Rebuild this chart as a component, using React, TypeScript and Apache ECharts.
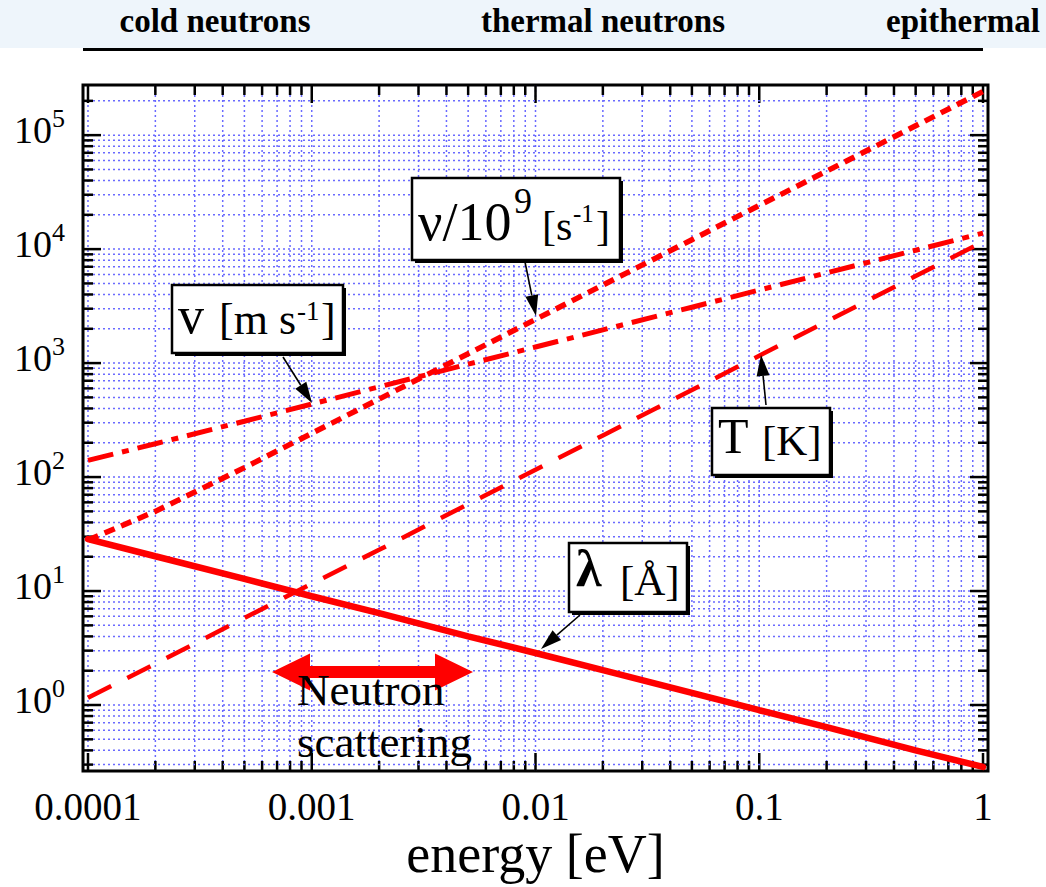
import React, { useEffect, useRef } from 'react';
import * as echarts from 'echarts';

// ---- data ----
const energy = [0.0001, 0.0002, 0.0005, 0.001, 0.002, 0.005, 0.01, 0.02, 0.05, 0.1, 0.2, 0.5, 1];
const wavelength = [28.6, 20.2, 12.8, 9.0, 6.4, 4.0, 2.86, 2.02, 1.28, 0.9, 0.64, 0.4, 0.286];
const temperature = [1.16, 2.3, 5.8, 11.6, 23, 58, 116, 232, 580, 1160, 2320, 5800, 11600];
const velocity = [140, 196, 309, 437, 619, 978, 1383, 1956, 3093, 4374, 6186, 9781, 13832];
const frequency = [28, 50, 121, 242, 484, 1209, 2418, 4836, 12090, 24180, 48360, 120900, 241800];

const xTickLabels = ['0.0001', '0.001', '0.01', '0.1', '1'];
const xDecades = [-4, -3, -2, -1, 0];
const yDecades = [-1, 0, 1, 2, 3, 4, 5];
const minorMultipliers = [1, 2, 3, 4, 5, 6, 7, 8, 9];
const regionLabels = ['cold neutrons', 'thermal neutrons', 'epithermal'];
const xTitle = 'energy [eV]';

const X_MIN = Math.pow(10, -4.0223);
const X_MAX = Math.pow(10, 0.0223);
const Y_MIN = Math.pow(10, -0.579);
const Y_MAX = Math.pow(10, 5.44);

const SERIF = '"Liberation Serif", "Times New Roman", serif';
const RED = '#ff0000';
const GRID_COLOR = '#6a6aff';

const xGrid: number[][] = [];
xDecades.forEach((d) =>
  minorMultipliers.forEach((m) => {
    const v = m * Math.pow(10, d);
    if (v >= X_MIN && v <= X_MAX) xGrid.push([v, 1, m === 1 ? 1 : 0]);
  })
);
const yGrid: number[][] = [];
yDecades.forEach((d) =>
  minorMultipliers.forEach((m) => {
    const v = m * Math.pow(10, d);
    if (v >= Y_MIN && v <= Y_MAX) yGrid.push([0.01, v, m === 1 ? 1 : 0]);
  })
);

const pairs = (ys: number[]) => energy.map((e, i) => [e, ys[i]]);

function txt(text: string, x: number, baseline: number, size: number, extra: any = {}) {
  const y = baseline - 0.3375 * size;
  return {
    type: 'text',
    x,
    y,
    z: 120,
    silent: true,
    style: {
      text,
      fontSize: size,
      fontFamily: SERIF,
      fill: '#000',
      align: extra.align || 'left',
      textAlign: extra.align || 'left',
      verticalAlign: 'middle',
      textVerticalAlign: 'middle',
      fontWeight: extra.fontWeight || 'normal',
    },
  };
}

function box(x: number, y: number, w: number, h: number) {
  return [
    { type: 'rect', z: 110, silent: true, shape: { x: x + 3, y: y + 3, width: w, height: h }, style: { fill: '#000' } },
    { type: 'rect', z: 111, silent: true, shape: { x, y, width: w, height: h }, style: { fill: '#fff', stroke: '#000', lineWidth: 2.5 } },
  ];
}

function arrow(x1: number, y1: number, x2: number, y2: number) {
  const dx = x2 - x1;
  const dy = y2 - y1;
  const L = Math.hypot(dx, dy);
  const ux = dx / L;
  const uy = dy / L;
  const hl = 21;
  const hw = 6.5;
  const bx = x2 - ux * hl;
  const by = y2 - uy * hl;
  const px = -uy;
  const py = ux;
  return [
    { type: 'line', z: 112, silent: true, shape: { x1, y1, x2: bx, y2: by }, style: { stroke: '#000', lineWidth: 1.6 } },
    {
      type: 'polygon',
      z: 112,
      silent: true,
      shape: { points: [[x2, y2], [bx + px * hw, by + py * hw], [bx - px * hw, by - py * hw]] },
      style: { fill: '#000' },
    },
  ];
}

function gridRender(vertical: boolean) {
  return (params: any, api: any) => {
    const cs = params.coordSys;
    const p = api.coord([api.value(0), api.value(1)]);
    const major = api.value(2) === 1;
    const len = major ? 18 : 10;
    const tickStyle = { stroke: '#000', lineWidth: 2.5 };
    const gridStyle = { stroke: GRID_COLOR, lineWidth: 1.5, lineDash: [2, 3] };
    if (vertical) {
      const top = cs.y;
      const bottom = cs.y + cs.height;
      return {
        type: 'group',
        children: [
          { type: 'line', shape: { x1: p[0], y1: top, x2: p[0], y2: bottom }, style: gridStyle },
          { type: 'line', shape: { x1: p[0], y1: bottom, x2: p[0], y2: bottom - len }, style: tickStyle },
          { type: 'line', shape: { x1: p[0], y1: top, x2: p[0], y2: top + len }, style: tickStyle },
        ],
      };
    }
    const left = cs.x;
    const right = cs.x + cs.width;
    return {
      type: 'group',
      children: [
        { type: 'line', shape: { x1: left, y1: p[1], x2: right, y2: p[1] }, style: gridStyle },
        { type: 'line', shape: { x1: left, y1: p[1], x2: left + len, y2: p[1] }, style: tickStyle },
        { type: 'line', shape: { x1: right, y1: p[1], x2: right - len, y2: p[1] }, style: tickStyle },
      ],
    };
  };
}

export default function App() {
  const ref = useRef<HTMLDivElement>(null);
  useEffect(() => {
    if (!ref.current) return;
    const chart = echarts.init(ref.current, undefined, { renderer: 'svg' });

    const graphic: any[] = [
      { type: 'rect', z: 100, silent: true, shape: { x: 0, y: 0, width: 1046, height: 48 }, style: { fill: '#eef5fb' } },
      { type: 'line', z: 101, silent: true, shape: { x1: 83, y1: 49.5, x2: 983, y2: 49.5 }, style: { stroke: '#000', lineWidth: 3 } },
      txt(regionLabels[0], 215, 32, 33, { align: 'center', fontWeight: 'bold' }),
      txt(regionLabels[1], 603, 32, 33, { align: 'center', fontWeight: 'bold' }),
      txt(regionLabels[2], 963, 32, 33, { align: 'center', fontWeight: 'bold' }),

      // nu / 10^9 [s^-1]
      ...box(412, 178, 208, 82),
      txt('ν/10', 418, 240, 54),
      txt('9', 514, 213, 36),
      txt('[s', 542, 240, 42),
      txt('-1', 573, 222, 25),
      txt(']', 596, 240, 42),
      ...arrow(525, 262, 536, 316),

      // v [m s^-1]
      ...box(172, 285, 171, 68),
      txt('v', 178, 333, 52),
      txt('[m s', 219, 334, 44),
      txt('-1', 297, 320, 27),
      txt(']', 321, 334, 44),
      ...arrow(283, 357, 312, 403),

      // T [K]
      ...box(712, 408, 118, 67),
      txt('T', 718, 453, 50),
      txt('[K]', 762, 455, 43),
      ...arrow(766, 405, 761, 355),

      // lambda [Å]
      ...box(569, 543, 118, 69),
      txt('λ', 576, 586, 52, { fontWeight: 'bold' }),
      txt('[Å]', 620, 595, 43),
      ...arrow(580, 615, 541, 649),

      // neutron scattering double arrow
      {
        type: 'polygon',
        z: 105,
        silent: true,
        shape: {
          points: [
            [272, 672], [310, 653.5], [310, 666], [435, 666], [435, 653.5],
            [473, 672], [435, 690.5], [435, 678], [310, 678], [310, 690.5],
          ],
        },
        style: { fill: RED },
      },
      txt('Neutron', 297, 705, 45),
      txt('scattering', 297, 757, 45),
    ];

    const option: any = {
      animation: false,
      backgroundColor: '#fff',
      grid: {
        left: 83,
        top: 85,
        right: 58,
        bottom: 116,
        show: true,
        borderColor: '#000',
        borderWidth: 3,
        backgroundColor: 'transparent',
        containLabel: false,
        outerBoundsMode: 'none',
      },
      xAxis: {
        type: 'log',
        logBase: 10,
        min: X_MIN,
        max: X_MAX,
        axisLine: { show: false },
        axisTick: { show: false },
        splitLine: { show: false },
        minorTick: { show: false },
        minorSplitLine: { show: false },
        axisLabel: {
          margin: 16,
          fontSize: 39,
          lineHeight: 39,
          fontFamily: SERIF,
          color: '#000',
          formatter: (v: number) => {
            const e = Math.log10(v);
            const r = Math.round(e);
            if (Math.abs(e - r) > 1e-6) return '';
            const i = xDecades.indexOf(r);
            return i >= 0 ? xTickLabels[i] : '';
          },
        },
        name: xTitle,
        nameLocation: 'middle',
        nameGap: 56,
        nameMoveOverlap: false,
        nameTextStyle: { fontSize: 54, lineHeight: 54, fontFamily: SERIF, color: '#000' },
      },
      yAxis: {
        type: 'log',
        logBase: 10,
        min: Y_MIN,
        max: Y_MAX,
        axisLine: { show: false },
        axisTick: { show: false },
        splitLine: { show: false },
        minorTick: { show: false },
        minorSplitLine: { show: false },
        axisLabel: {
          margin: 18,
          padding: [0, 0, 10.6, 0],
          formatter: (v: number) => {
            const e = Math.log10(v);
            const r = Math.round(e);
            if (Math.abs(e - r) > 1e-6) return '';
            return `{b|10}{s|${r}}`;
          },
          rich: {
            b: { fontSize: 38, lineHeight: 38, fontFamily: SERIF, color: '#000', verticalAlign: 'bottom' },
            s: { fontSize: 26, lineHeight: 38, fontFamily: SERIF, color: '#000', verticalAlign: 'bottom', padding: [0, 0, 17, 0] },
          },
        },
      },
      series: [
        {
          type: 'custom',
          name: 'xgrid',
          silent: true,
          z: 1,
          clip: false,
          encode: { x: 0, y: 1 },
          data: xGrid,
          renderItem: gridRender(true),
        },
        {
          type: 'custom',
          name: 'ygrid',
          silent: true,
          z: 1,
          clip: false,
          encode: { x: 0, y: 1 },
          data: yGrid,
          renderItem: gridRender(false),
        },
        {
          type: 'line',
          name: 'λ [Å]',
          data: pairs(wavelength),
          symbol: 'none',
          showSymbol: false,
          silent: true,
          z: 3,
          lineStyle: { color: RED, width: 6.5, cap: 'round' },
        },
        {
          type: 'line',
          name: 'T [K]',
          data: pairs(temperature),
          symbol: 'none',
          showSymbol: false,
          silent: true,
          z: 3,
          lineStyle: { color: RED, width: 4.5, type: [26, 18] },
        },
        {
          type: 'line',
          name: 'v [m s-1]',
          data: pairs(velocity),
          symbol: 'none',
          showSymbol: false,
          silent: true,
          z: 3,
          lineStyle: { color: RED, width: 5, type: [26, 9, 7, 9] },
        },
        {
          type: 'line',
          name: 'ν/10^9 [s-1]',
          data: pairs(frequency),
          symbol: 'none',
          showSymbol: false,
          silent: true,
          z: 3,
          lineStyle: { color: RED, width: 5.5, type: [11, 7] },
        },
      ],
      graphic: { elements: graphic },
    };

    chart.setOption(option);
    return () => chart.dispose();
  }, []);

  return (
    <div
      ref={ref}
      style={{ position: 'absolute', left: 0, top: 0, width: 1046, height: 887, background: '#fff' }}
    />
  );
}
